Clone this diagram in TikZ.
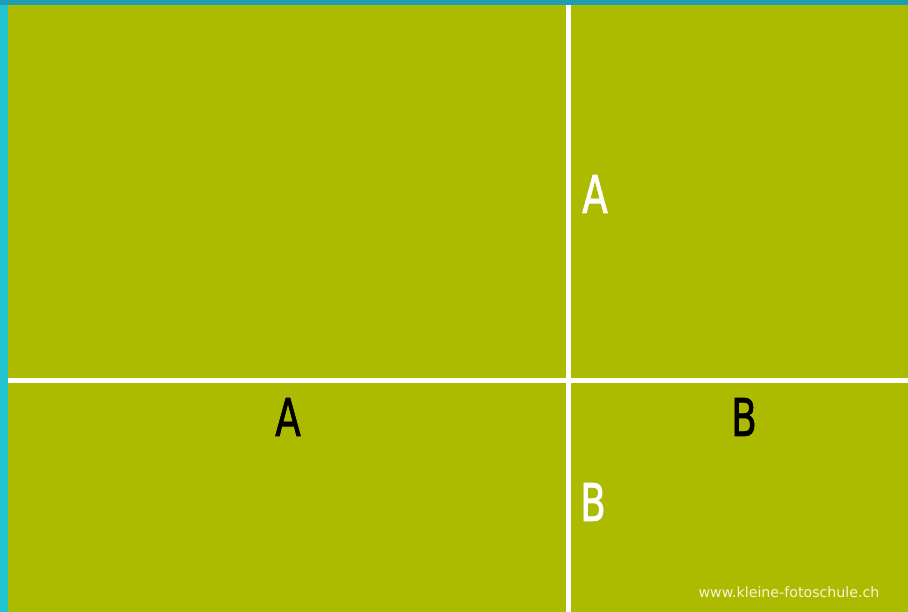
\documentclass[tikz,border=0pt]{standalone}
\usepackage{fontspec}
\usepackage{graphicx}
\setmainfont{DejaVu Sans}
\newfontfamily\letfont{DejaVu Sans}[FakeBold=1.6]
\definecolor{bggreen}{HTML}{ADBB00}
\definecolor{edgecyan}{HTML}{22C4D2}
\definecolor{topteal}{HTML}{1E9CB2}
\definecolor{markcol}{HTML}{F4F6D8}
\newcommand{\biglet}[1]{\scalebox{0.72}[1]{\letfont\fontsize{52}{52}\selectfont #1}}
\begin{document}
\begin{tikzpicture}[x=1pt,y=-1pt,
  gridline/.style={draw=white,line width=5pt},
  whitelabel/.style={text=white,inner sep=0pt},
  blacklabel/.style={text=black,inner sep=0pt},
  watermark/.style={text=markcol,font=\fontsize{14.2}{14.2}\selectfont,inner sep=0pt}]
\useasboundingbox (0,0) rectangle (908,612);
\fill[bggreen] (0,0) rectangle (908,612);
\fill[edgecyan] (0,0) rectangle (8,612);
\fill[topteal] (0,0) rectangle (908,5);
\coordinate (vtop) at (568,5);
\coordinate (vbot) at (568,612);
\coordinate (hleft) at (8,381);
\coordinate (hright) at (908,381);
\draw[gridline] (vtop) -- (vbot);
\draw[gridline] (hleft) -- (hright);
\node[whitelabel] (a1) at (595,194) {\biglet{A}};
\node[blacklabel] (a2) at (288,417) {\biglet{A}};
\node[blacklabel] (b1) at (744,417) {\biglet{B}};
\node[whitelabel] (b2) at (593,502) {\biglet{B}};
\node[watermark] (wm) at (789,592) {www.kleine-fotoschule.ch};
\end{tikzpicture}
\end{document}
